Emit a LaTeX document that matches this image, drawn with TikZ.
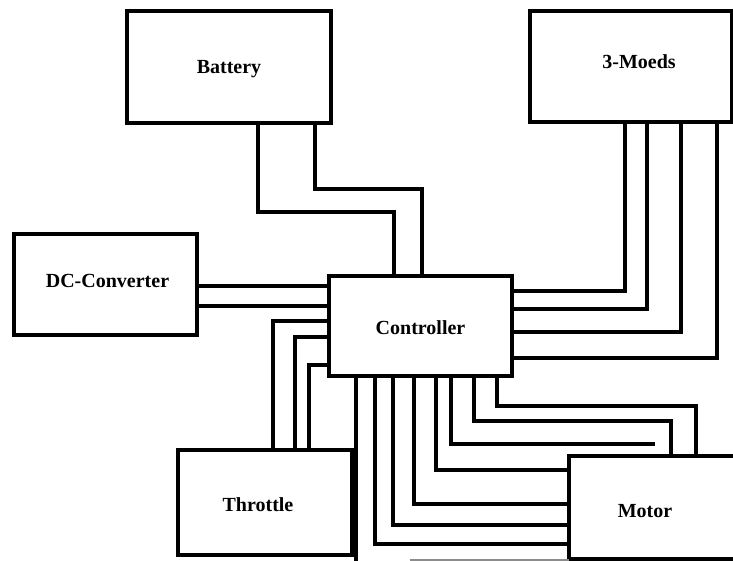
\documentclass[tikz,border=0pt]{standalone}
\usepackage{fontspec}
\setmainfont{Liberation Serif}
\usetikzlibrary{positioning,calc}
\newcommand{\lifted}[2]{\raisebox{#1}[\height][\depth]{#2}}
\begin{document}
\begin{tikzpicture}[x=1pt,y=-1pt, box/.style={draw=black,line width=3.2pt,inner sep=0pt,outer sep=0pt,font=\fontsize{20}{22}\selectfont\bfseries}, wire/.style={black,line width=3.8pt}]
  \clip (0,0) rectangle (733,561);
  \node[box,line width=4pt,minimum width=204pt,minimum height=112pt] (battery) at (229,67) {\lifted{-2pt}{Battery}};
  \node[box,line width=4pt,minimum width=202pt,minimum height=111pt] (moeds) at (631,66.5) {\hspace*{16pt}\lifted{4.5pt}{3-Moeds}};
  \node[box,minimum width=183pt,minimum height=101pt] (dcconv) at (105.5,284.5) {\hspace*{4pt}\lifted{4pt}{DC-Converter}};
  \node[box,minimum width=183pt,minimum height=100pt] (controller) at (420.5,326) {\lifted{-2pt}{Controller}};
  \node[box,minimum width=174pt,minimum height=105pt] (throttle) at (265,502.5) {\lifted{-2pt}{Throttle}\hspace*{14pt}};
  \node[box,minimum width=176pt,minimum height=103pt] (motor) at (657,507.5) {\lifted{-4pt}{Motor}\hspace*{24pt}};
  \coordinate (foot) at (0,561);
  \coordinate (gap) at (655,444);
  % battery and converter
  \draw[wire] (258,0 |- battery.south) |- (394,212) -- (394,0 |- controller.north);
  \draw[wire] (315,0 |- battery.south) |- (422,189) -- (422,0 |- controller.north);
  \foreach \y in {286,306}{\draw[wire] (dcconv.east |- 0,\y) -- (controller.west |- 0,\y);}
  % throttle
  \foreach \x/\y in {273/321,295/337,309/365}{\draw[wire] (\x,0 |- throttle.north) |- (controller.west |- 0,\y);}
  % modes
  \foreach \x/\y in {625/291,647/309,681/332,717/358}{\draw[wire] (\x,0 |- moeds.south) |- (controller.east |- 0,\y);}
  % motor
  \foreach \x/\y in {375/544,393/525,414/504,436/470}{\draw[wire] (\x,0 |- controller.south) |- (motor.west |- 0,\y);}
  \draw[wire] (451,0 |- controller.south) |- (gap);
  \draw[wire] (474,0 |- controller.south) |- (671,421) -- (671,0 |- motor.north);
  \draw[wire] (497,0 |- controller.south) |- (696,406) -- (696,0 |- motor.north);
  \draw[wire] (356,0 |- controller.south) -- (356,0 |- foot);
  \draw[black!45,line width=1.5pt] (410,560) -- (motor.west |- 0,560);
\end{tikzpicture}
\end{document}
